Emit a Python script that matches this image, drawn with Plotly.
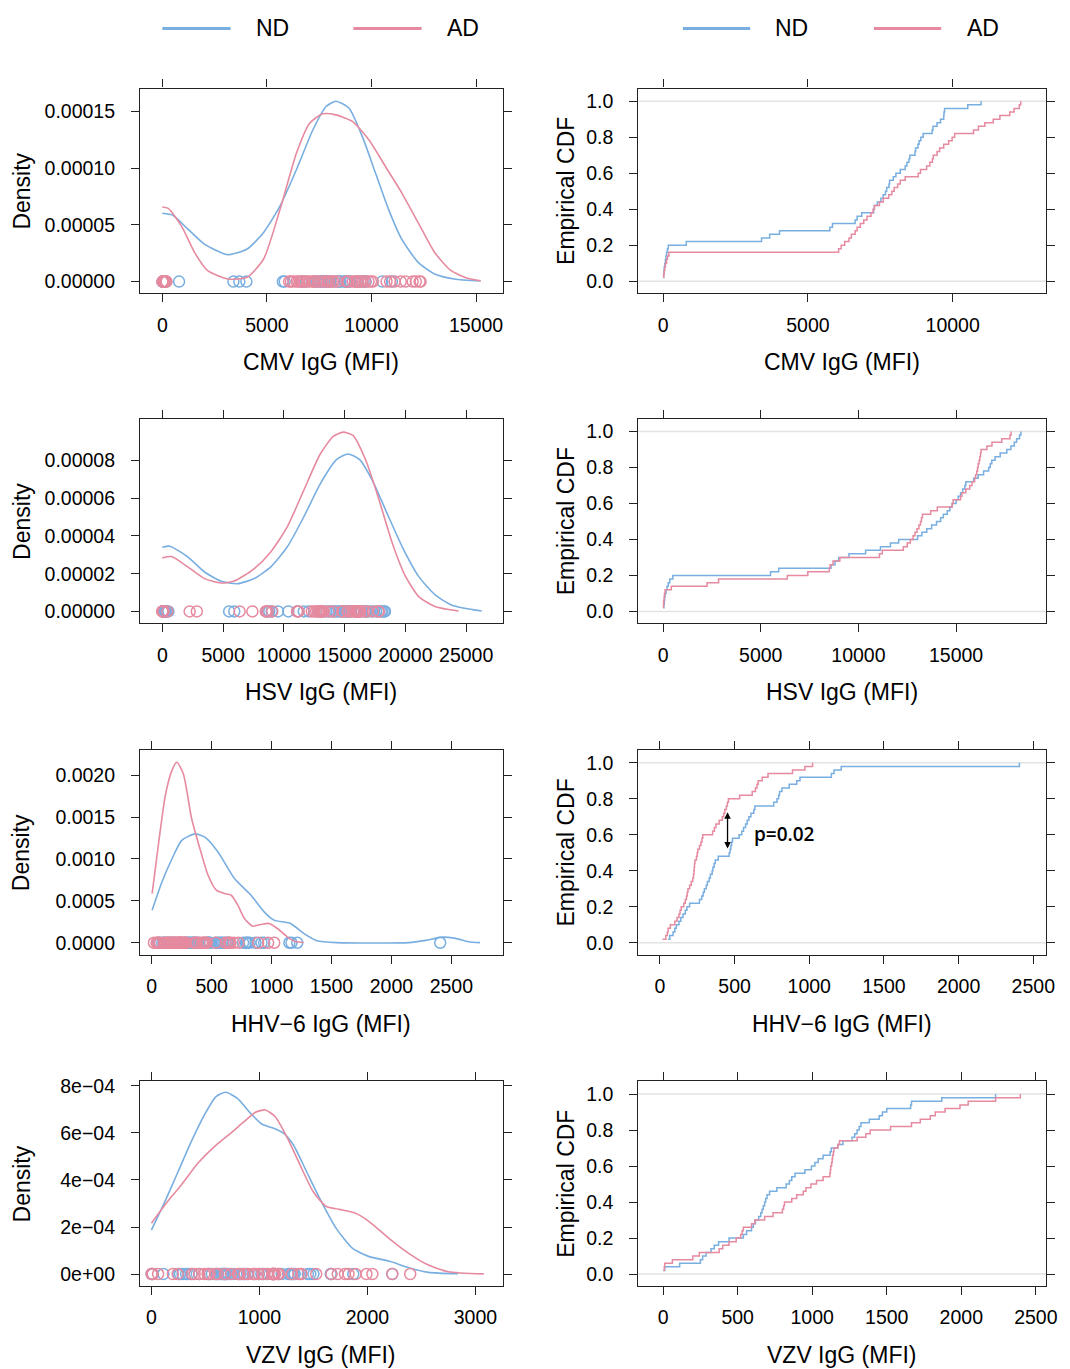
import plotly.graph_objects as go

W, H = 1070, 1369
BLUE = "#78AEE0"
PINK = "#E68A9F"
FONT = "Liberation Sans, Arial, sans-serif"

groups = ["ND", "AD"]
variables = ["CMV IgG (MFI)", "HSV IgG (MFI)", "HHV\u22126 IgG (MFI)", "VZV IgG (MFI)"]

# ---- sample values (read from the ECDF steps / rug) ----
cmv_nd = [10, 20, 30, 40, 60, 80, 100, 120, 150, 180, 800, 3400, 3680, 4020, 5760, 5850, 6630, 6700,
          6860, 7270, 7290, 7400, 7520, 7600, 7680, 7720, 7800, 7820, 7950, 8040, 8190, 8360, 8420,
          8490, 8520, 8700, 8720, 8800, 8840, 8900, 8980, 9290, 9320, 9460, 9580, 9690, 9700, 9720,
          10520, 10980]
cmv_ad = [10, 20, 40, 60, 80, 120, 150, 200, 6060, 6150, 6270, 6420, 6500, 6630, 6700, 6810, 6930,
          7040, 7180, 7250, 7300, 7470, 7600, 7790, 7900, 7980, 8100, 8190, 8360, 8810, 8890, 9100,
          9210, 9300, 9330, 9460, 9550, 9690, 9860, 9980, 10070, 10720, 10890, 11110, 11400, 11630,
          11970, 12120, 12300, 12350]
hsv_nd = [20, 40, 60, 80, 100, 150, 200, 260, 340, 500, 5500, 5920, 8600, 8800, 9000, 9520, 10370,
          11130, 11640, 12060, 13030, 13250, 13500, 13750, 14000, 14210, 14350, 14550, 14680, 14800,
          15000, 15110, 15230, 15340, 15450, 15500, 15900, 16130, 16410, 16670, 16750, 16830, 17000,
          17260, 17600, 17810, 17980, 18100, 18250, 18320]
hsv_ad = [10, 20, 30, 50, 70, 100, 420, 2250, 2840, 6360, 7410, 8510, 8550, 8700, 9050, 11080, 11220,
          12300, 12500, 12660, 12800, 12900, 13000, 13100, 13180, 13230, 13280, 13700, 14040, 14800,
          14850, 15230, 15300, 15500, 15700, 15820, 15950, 16000, 16060, 16100, 16130, 16180, 16220,
          16250, 16280, 16580, 16840, 17340, 17760, 17820]
hhv6_nd = [55, 66, 88, 100, 110, 128, 140, 155, 170, 181, 199, 265, 280, 290, 298, 310, 318, 330, 338,
           350, 355, 363, 371, 391, 464, 470, 475, 480, 486, 530, 548, 560, 574, 585, 596, 610, 629,
           636, 762, 784, 795, 801, 817, 866, 916, 938, 1148, 1166, 1214, 2407]
hhv6_ad = [18, 40, 50, 55, 70, 100, 115, 128, 135, 143, 160, 170, 178, 183, 188, 199, 210, 220, 225,
           228, 230, 232, 235, 245, 250, 254, 265, 275, 282, 287, 353, 365, 375, 397, 418, 428, 435,
           445, 452, 459, 534, 618, 640, 650, 658, 685, 724, 888, 971, 1022]
vzv_nd = [2, 11, 111, 250, 265, 288, 321, 343, 372, 442, 538, 560, 593, 605, 619, 641, 655, 664, 672,
          681, 688, 697, 714, 763, 825, 847, 863, 885, 951, 995, 1018, 1040, 1073, 1120, 1128, 1172,
          1206, 1267, 1285, 1301, 1315, 1327, 1383, 1449, 1471, 1500, 1660, 1666, 1869, 2230]
vzv_ad = [2, 8, 11, 62, 199, 243, 376, 400, 442, 490, 520, 530, 538, 593, 615, 681, 737, 800, 808,
          814, 863, 896, 940, 958, 991, 1029, 1073, 1118, 1122, 1124, 1130, 1134, 1137, 1142, 1146,
          1172, 1183, 1301, 1360, 1389, 1526, 1666, 1725, 1792, 1825, 1891, 1991, 2046, 2230, 2396]

# ---- density curves ----
cmv_nd_dx = [0, 500, 1226, 2013, 3113, 4057, 4843, 5629, 6415, 7201, 7830, 8302, 8930, 9560, 10189,
             10817, 11446, 12232, 13019, 13962, 15220]
cmv_nd_dy = [6.02e-5, 5.85e-5, 4.62e-5, 3.3e-5, 2.37e-5, 2.87e-5, 4.33e-5, 6.67e-5, 9.88e-5, 1.339e-4,
             1.544e-4, 1.59e-4, 1.529e-4, 1.28e-4, 9.59e-5, 6.37e-5, 3.74e-5, 1.7e-5, 6.7e-6, 2.3e-6,
             5e-7]
cmv_ad_dx = [0, 283, 912, 1541, 2170, 3113, 4057, 4843, 5629, 6415, 7044, 7673, 8302, 9090, 9875,
             10660, 11446, 12232, 13019, 13805, 14590, 15220]
cmv_ad_dy = [6.58e-5, 6.46e-5, 4.91e-5, 2.57e-5, 9.6e-6, 2.3e-6, 3.8e-6, 1.99e-5, 6.37e-5, 1.134e-4,
             1.397e-4, 1.479e-4, 1.47e-4, 1.412e-4, 1.251e-4, 1.017e-4, 7.83e-5, 5.2e-5, 2.57e-5,
             9.6e-6, 3.0e-6, 8e-7]
hsv_nd_dx = [0, 624, 2117, 3474, 4831, 6188, 7546, 8903, 10260, 11617, 12974, 14331, 15281, 16231,
             17316, 18403, 19760, 21117, 22474, 23831, 26274]
hsv_nd_dy = [3.4e-5, 3.46e-5, 2.88e-5, 2.09e-5, 1.6e-5, 1.47e-5, 1.74e-5, 2.35e-5, 3.4e-5, 4.98e-5,
             6.74e-5, 8.05e-5, 8.35e-5, 8.05e-5, 6.91e-5, 5.33e-5, 3.4e-5, 1.83e-5, 8.6e-6, 3.3e-6,
             2e-7]
hsv_ad_dx = [0, 760, 2117, 3474, 4831, 5917, 7546, 8903, 10260, 11617, 12974, 14060, 14874, 15688,
             16774, 17859, 18945, 20032, 21117, 22474, 24374]
hsv_ad_dy = [2.84e-5, 2.91e-5, 2.35e-5, 1.74e-5, 1.51e-5, 1.61e-5, 2.26e-5, 3.14e-5, 4.46e-5, 6.39e-5,
             8.32e-5, 9.28e-5, 9.51e-5, 9.33e-5, 7.96e-5, 5.86e-5, 3.58e-5, 1.83e-5, 7.7e-6, 2.5e-6,
             2e-7]
hhv6_nd_dx = [3, 85, 168, 250, 360, 443, 553, 690, 828, 938, 1020, 1158, 1268, 1378, 1543, 2148, 2285,
              2423, 2533, 2643, 2739]
hhv6_nd_dy = [3.89e-4, 7.26e-4, 1.0e-3, 1.222e-3, 1.3e-3, 1.26e-3, 1.083e-3, 7.66e-4, 5.67e-4, 3.69e-4,
              2.7e-4, 2.3e-4, 1.11e-4, 2.4e-5, 1e-6, 1e-6, 2.8e-5, 6.7e-5, 5.2e-5, 1.2e-5, 1e-6]
hhv6_ad_dx = [3, 58, 113, 168, 209, 264, 333, 402, 470, 539, 608, 663, 718, 773, 842, 910, 979, 1048,
              1130, 1199, 1268]
hhv6_ad_dy = [5.87e-4, 1.2e-3, 1.757e-3, 2.055e-3, 2.154e-3, 2.015e-3, 1.48e-3, 1.122e-3, 8.05e-4,
              6.27e-4, 5.87e-4, 5.67e-4, 4.48e-4, 2.9e-4, 1.98e-4, 2.18e-4, 2.3e-4, 1.7e-4, 7.1e-5,
              1.5e-5, 2e-6]
vzv_nd_dx = [0, 125, 247, 369, 491, 598, 689, 796, 918, 1025, 1132, 1223, 1315, 1437, 1558, 1711, 1863,
             2016, 2199, 2382, 2565, 2839]
vzv_nd_dy = [1.87e-4, 3.08e-4, 4.35e-4, 5.63e-4, 6.77e-4, 7.55e-4, 7.73e-4, 7.47e-4, 6.84e-4, 6.37e-4,
             6.2e-4, 5.99e-4, 5.49e-4, 4.35e-4, 3.22e-4, 1.94e-4, 1.09e-4, 7.4e-5, 5.5e-5, 2.7e-5,
             7e-6, 1e-6]
vzv_ad_dx = [0, 125, 277, 430, 583, 735, 857, 964, 1055, 1147, 1253, 1376, 1498, 1620, 1741, 1894, 2016,
             2199, 2382, 2565, 2748, 3077]
vzv_ad_dy = [2.16e-4, 2.94e-4, 3.79e-4, 4.71e-4, 5.42e-4, 5.99e-4, 6.48e-4, 6.88e-4, 6.98e-4, 6.69e-4,
             5.84e-4, 4.64e-4, 3.5e-4, 2.87e-4, 2.75e-4, 2.58e-4, 2.23e-4, 1.52e-4, 8.8e-5, 3.8e-5,
             1e-5, 5e-7]

# ---- tick values / labels ----
cmv_dens_xticks = [0, 5000, 10000, 15000]
hsv_dens_xticks = [0, 5000, 10000, 15000, 20000, 25000]
hhv6_dens_xticks = [0, 500, 1000, 1500, 2000, 2500]
vzv_dens_xticks = [0, 1000, 2000, 3000]
cmv_ecdf_xticks = [0, 5000, 10000]
hsv_ecdf_xticks = [0, 5000, 10000, 15000]
hhv6_ecdf_xticks = [0, 500, 1000, 1500, 2000, 2500]
vzv_ecdf_xticks = [0, 500, 1000, 1500, 2000, 2500]
cmv_dens_yticks = [0, 5e-5, 1e-4, 1.5e-4]
cmv_dens_ylabels = ["0.00000", "0.00005", "0.00010", "0.00015"]
hsv_dens_yticks = [0, 2e-5, 4e-5, 6e-5, 8e-5]
hsv_dens_ylabels = ["0.00000", "0.00002", "0.00004", "0.00006", "0.00008"]
hhv6_dens_yticks = [0, 5e-4, 1e-3, 1.5e-3, 2e-3]
hhv6_dens_ylabels = ["0.0000", "0.0005", "0.0010", "0.0015", "0.0020"]
vzv_dens_yticks = [0, 2e-4, 4e-4, 6e-4, 8e-4]
vzv_dens_ylabels = ["0e+00", "2e\u221204", "4e\u221204", "6e\u221204", "8e\u221204"]
ecdf_yticks = [0, 0.2, 0.4, 0.6, 0.8, 1.0]
ecdf_ylabels = ["0.0", "0.2", "0.4", "0.6", "0.8", "1.0"]
p_label = "p=0.02"

rows = [
    dict(title=variables[0], samples=(cmv_nd, cmv_ad), dens=((cmv_nd_dx, cmv_nd_dy), (cmv_ad_dx, cmv_ad_dy)),
         dxt=cmv_dens_xticks, dyt=cmv_dens_yticks, dyl=cmv_dens_ylabels, ext=cmv_ecdf_xticks,
         dxr=[-1065, 16278], dyr=[-1.009e-5, 1.7018e-4], exr=[-854, 13227]),
    dict(title=variables[1], samples=(hsv_nd, hsv_ad), dens=((hsv_nd_dx, hsv_nd_dy), (hsv_ad_dx, hsv_ad_dy)),
         dxt=hsv_dens_xticks, dyt=hsv_dens_yticks, dyl=hsv_dens_ylabels, ext=hsv_ecdf_xticks,
         dxr=[-1832, 28013], dyr=[-6.32e-6, 1.021e-4], exr=[-1267, 19613]),
    dict(title=variables[2], samples=(hhv6_nd, hhv6_ad), dens=((hhv6_nd_dx, hhv6_nd_dy), (hhv6_ad_dx, hhv6_ad_dy)),
         dxt=hhv6_dens_xticks, dyt=hhv6_dens_yticks, dyl=hhv6_dens_ylabels, ext=hhv6_ecdf_xticks,
         dxr=[-97.7, 2929], dyr=[-1.42e-4, 2.299e-3], exr=[-144, 2586]),
    dict(title=variables[3], samples=(vzv_nd, vzv_ad), dens=((vzv_nd_dx, vzv_nd_dy), (vzv_ad_dx, vzv_ad_dy)),
         dxt=vzv_dens_xticks, dyt=vzv_dens_yticks, dyl=vzv_dens_ylabels, ext=vzv_ecdf_xticks,
         dxr=[-105, 3253], dyr=[-5.06e-5, 8.19e-4], exr=[-166, 2569]),
]

colors = [BLUE, PINK]

# ---- layout geometry (pixels) ----
LEFT_X = (141.5, 508.0)
RIGHT_X = (645.0, 1057.0)
ROW_TOP = [82.0, 414.0, 747.0, 1080.0]
ROW_H = 205.5


def xp(px):
    return px / W


def yp(py):
    return 1 - py / H


fig = go.Figure()
layout = dict(
    width=W, height=H, margin=dict(l=0, r=0, t=0, b=0),
    paper_bgcolor="white", plot_bgcolor="white", showlegend=False,
    font=dict(family=FONT, color="black"),
)
shapes = []
annotations = []

axis_common = dict(
    showline=True, linecolor="#222222", linewidth=1.2, mirror="ticks",
    ticks="outside", ticklen=8, tickwidth=1.2, tickcolor="#222222",
    showgrid=False, zeroline=False, fixedrange=True,
    tickfont=dict(family=FONT, size=19.5, color="black"),
)

for i, r in enumerate(rows):
    top = ROW_TOP[i]
    bot = top + ROW_H
    ydom = [yp(bot), yp(top)]
    kL = 2 * i + 1
    kR = 2 * i + 2
    xL = "x" if kL == 1 else f"x{kL}"
    yL = "y" if kL == 1 else f"y{kL}"
    xR = f"x{kR}"
    yR = f"y{kR}"

    # density panel
    layout["xaxis" if kL == 1 else f"xaxis{kL}"] = dict(
        axis_common, domain=[xp(LEFT_X[0]), xp(LEFT_X[1])], anchor=yL, range=r["dxr"],
        tickvals=r["dxt"], ticktext=[str(v) for v in r["dxt"]], ticklabelstandoff=6)
    layout["yaxis" if kL == 1 else f"yaxis{kL}"] = dict(
        axis_common, domain=ydom, anchor=xL, range=r["dyr"],
        tickvals=r["dyt"], ticktext=r["dyl"], ticklabelstandoff=12)
    # ecdf panel
    layout[f"xaxis{kR}"] = dict(
        axis_common, domain=[xp(RIGHT_X[0]), xp(RIGHT_X[1])], anchor=yR, range=r["exr"],
        tickvals=r["ext"], ticktext=[str(v) for v in r["ext"]], ticklabelstandoff=6)
    layout[f"yaxis{kR}"] = dict(
        axis_common, domain=ydom, anchor=xR, range=[-0.066, 1.07],
        tickvals=ecdf_yticks, ticktext=ecdf_ylabels, ticklabelstandoff=12)

    for ref in (0, 1):
        shapes.append(dict(type="line", xref=f"{xR} domain", yref=yR, x0=0, x1=1, y0=ref, y1=ref,
                           line=dict(color="#E3E3E3", width=1.5), layer="below"))

    for g in range(2):
        dx, dy = r["dens"][g]
        fig.add_trace(go.Scatter(x=dx, y=dy, mode="lines", xaxis=xL, yaxis=yL,
                                 line=dict(color=colors[g], width=1.6, shape="spline", smoothing=0.6),
                                 name=groups[g], hoverinfo="skip"))
        s = r["samples"][g]
        fig.add_trace(go.Scatter(x=s, y=[0] * len(s), mode="markers", xaxis=xL, yaxis=yL,
                                 marker=dict(symbol="circle-open", size=11, color=colors[g],
                                             line=dict(width=1.5, color=colors[g])),
                                 name=groups[g], hoverinfo="skip"))
    for g in range(2):
        s = sorted(r["samples"][g])
        n = len(s)
        fig.add_trace(go.Scatter(x=s, y=[(j + 1) / n for j in range(n)], mode="lines",
                                 xaxis=xR, yaxis=yR, line=dict(color=colors[g], width=1.5, shape="hv"),
                                 name=groups[g], hoverinfo="skip"))

    # axis titles
    title_y = yp(bot + 69.5)
    annotations.append(dict(text=r["title"], xref="paper", yref="paper", showarrow=False,
                            x=xp(sum(LEFT_X) / 2), y=title_y, xanchor="center", yanchor="middle",
                            font=dict(family=FONT, size=23)))
    annotations.append(dict(text=r["title"], xref="paper", yref="paper", showarrow=False,
                            x=xp(sum(RIGHT_X) / 2), y=title_y, xanchor="center", yanchor="middle",
                            font=dict(family=FONT, size=23)))
    mid = yp(top + ROW_H / 2)
    annotations.append(dict(text="Density", xref="paper", yref="paper", showarrow=False,
                            x=xp(22), y=mid, xanchor="center", yanchor="middle", textangle=-90,
                            font=dict(family=FONT, size=23)))
    annotations.append(dict(text="Empirical CDF", xref="paper", yref="paper", showarrow=False,
                            x=xp(572), y=mid, xanchor="center", yanchor="middle", textangle=-90,
                            font=dict(family=FONT, size=23)))

# p-value arrow + label on the HHV-6 ECDF panel
annotations.append(dict(x=453, y=0.725, ax=453, ay=0.515, xref="x6", yref="y6", axref="x6", ayref="y6",
                        text="", showarrow=True, arrowhead=2, startarrowhead=2, arrowside="end+start",
                        arrowsize=1, arrowwidth=1.3, arrowcolor="black"))
annotations.append(dict(x=618, y=0.605, xref="x6", yref="y6", text=p_label, showarrow=False,
                        xanchor="left", yanchor="middle",
                        font=dict(family="Open Sans, sans-serif", size=19, color="black", weight=600)))

# legends (one above each column)
legend_items = [
    (164, 233, 275, BLUE, groups[0]), (357, 426, 468, PINK, groups[1]),
    (690, 758, 800, BLUE, groups[0]), (883, 951, 993, PINK, groups[1]),
]
for x0, x1, tx, col, lab in legend_items:
    shapes.append(dict(type="line", xref="paper", yref="paper", x0=xp(x0), x1=xp(x1),
                       y0=yp(21.5), y1=yp(21.5), line=dict(color=col, width=3)))
    annotations.append(dict(text=lab, xref="paper", yref="paper", showarrow=False, x=xp(tx),
                            y=yp(21.5), xanchor="center", yanchor="middle",
                            font=dict(family=FONT, size=23)))

layout["shapes"] = shapes
layout["annotations"] = annotations
fig.update_layout(**layout)

# remove the browser's default 8px body margin so the 1070x1369 figure fills the window exactly
fig.write_html("out.html", config=dict(displayModeBar=False),
               post_script="document.body.style.margin='0';document.body.style.overflow='hidden';")
